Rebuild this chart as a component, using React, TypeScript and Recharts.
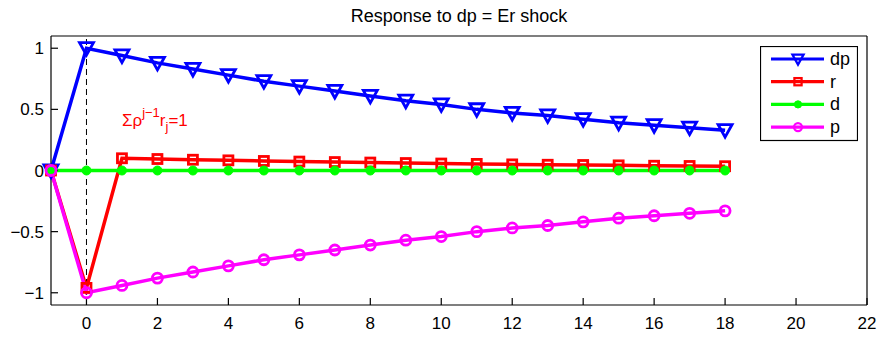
// Impulse response of dp, r, d, p to a dp = Er shock (MATLAB style plot).

import {
  LineChart,
  Line,
  XAxis,
  YAxis,
  Legend,
  ReferenceLine,
  ReferenceDot,
} from "recharts";

const TITLE = "Response to dp = Er shock";

const horizon = [-1, 0, 1, 2, 3, 4, 5, 6, 7, 8, 9, 10, 11, 12, 13, 14, 15, 16, 17, 18];
const dpVals = [0, 1, 0.94, 0.88, 0.83, 0.78, 0.73, 0.69, 0.65, 0.61, 0.57, 0.54, 0.5, 0.47, 0.45, 0.42, 0.39, 0.37, 0.35, 0.33];
const rVals = [0, -0.96, 0.1, 0.094, 0.088, 0.083, 0.078, 0.073, 0.069, 0.065, 0.061, 0.057, 0.054, 0.05, 0.047, 0.045, 0.042, 0.039, 0.037, 0.035];
const dVals = [0, 0, 0, 0, 0, 0, 0, 0, 0, 0, 0, 0, 0, 0, 0, 0, 0, 0, 0, 0];
const pVals = [0, -1, -0.94, -0.88, -0.83, -0.78, -0.73, -0.69, -0.65, -0.61, -0.57, -0.54, -0.5, -0.47, -0.45, -0.42, -0.39, -0.37, -0.35, -0.33];

const xTicks = [0, 2, 4, 6, 8, 10, 12, 14, 16, 18, 20, 22];
const yTicks = [-1, -0.5, 0, 0.5, 1];

const seriesNames = ["dp", "r", "d", "p"];

const BLUE = "#0000FF";
const RED = "#FF0000";
const GREEN = "#00FF00";
const MAGENTA = "#FF00FF";
const FONT = "'Liberation Sans', Arial, Helvetica, sans-serif";

const rows = horizon.map((x, i) => ({
  x,
  dp: dpVals[i],
  r: rVals[i],
  d: dVals[i],
  p: pVals[i],
}));

function Marker({ kind, cx, cy, scale = 1 }: { kind: string; cx: number; cy: number; scale?: number }) {
  const sw = 2.8 * scale;
  if (kind === "dp") {
    const s = 7 * scale;
    return (
      <polygon
        points={`${cx - s},${cy - s * 0.8} ${cx + s},${cy - s * 0.8} ${cx},${cy + s}`}
        fill="none"
        stroke={BLUE}
        strokeWidth={sw}
        strokeLinejoin="miter"
      />
    );
  }
  if (kind === "r") {
    const s = 4.5 * scale;
    return <rect x={cx - s} y={cy - s} width={2 * s} height={2 * s} fill="none" stroke={RED} strokeWidth={sw} />;
  }
  if (kind === "d") {
    return <circle cx={cx} cy={cy} r={4.5 * scale} fill={GREEN} stroke={GREEN} strokeWidth={1} />;
  }
  return <circle cx={cx} cy={cy} r={5 * scale} fill="none" stroke={MAGENTA} strokeWidth={sw} />;
}

const makeDot = (kind: string) => (props: any) => {
  const { cx, cy, index } = props;
  if (cx == null || cy == null) return <g key={`${kind}-${index}`} />;
  return (
    <g key={`${kind}-${index}`}>
      <Marker kind={kind} cx={cx} cy={cy} />
    </g>
  );
};

const colorOf: Record<string, string> = { dp: BLUE, r: RED, d: GREEN, p: MAGENTA };

function LegendBox() {
  return (
    <svg width={98} height={96} style={{ display: "block" }}>
      <rect x={0.5} y={0.5} width={97} height={94} fill="#fff" stroke="#000" strokeWidth={1.2} />
      {seriesNames.map((name, i) => {
        const y = 13 + i * 22.7;
        return (
          <g key={name}>
            <line x1={11} x2={64} y1={y} y2={y} stroke={colorOf[name]} strokeWidth={3.2} />
            <Marker kind={name} cx={38} cy={y} scale={0.8} />
            <text x={70} y={y + 6} fontSize={18} fontFamily={FONT} fill="#000">
              {name}
            </text>
          </g>
        );
      })}
    </svg>
  );
}

function Annotation(props: any) {
  const { viewBox } = props;
  if (!viewBox) return null;
  return (
    <text x={viewBox.x} y={viewBox.y} fill={RED} fontSize={17} fontFamily={FONT}>
      <tspan>Σρ</tspan>
      <tspan dy={-9} fontSize={13}>j−1</tspan>
      <tspan dy={9} fontSize={17}>r</tspan>
      <tspan dy={5} fontSize={13}>j</tspan>
      <tspan dy={-5} fontSize={17}>=1</tspan>
    </text>
  );
}

const fmtY = (v: number) => (v < 0 ? `−${Math.abs(v)}` : `${v}`);

export default function App() {
  const tickStyle = { fill: "#000", fontSize: 17, fontFamily: FONT };
  return (
    <div style={{ position: "absolute", left: 0, top: 0, background: "#fff" }}>
      <LineChart width={885} height={337} data={rows} margin={{ top: 0, right: 0, bottom: 0, left: 0 }}>
        <XAxis
          dataKey="x"
          type="number"
          domain={[-1, 22]}
          ticks={xTicks}
          interval={0}
          height={32}
          tickSize={-7}
          tickMargin={19}
          tick={tickStyle}
          stroke="#000"
          strokeWidth={1.2}
          tickLine={{ stroke: "#000" }}
        />
        <XAxis
          xAxisId="top"
          orientation="top"
          dataKey="x"
          type="number"
          domain={[-1, 22]}
          ticks={xTicks}
          interval={0}
          height={36}
          tickSize={-7}
          tick={false}
          stroke="#000"
          strokeWidth={1.2}
          tickLine={{ stroke: "#000" }}
          label={{ value: TITLE, position: "insideTop", offset: 9, fill: "#000", fontSize: 18, fontFamily: FONT }}
        />
        <YAxis
          type="number"
          domain={[-1.1, 1.1]}
          ticks={yTicks}
          interval={0}
          width={51}
          tickSize={-7}
          tickMargin={14}
          tick={tickStyle}
          tickFormatter={fmtY}
          stroke="#000"
          strokeWidth={1.2}
          tickLine={{ stroke: "#000" }}
        />
        <YAxis
          yAxisId="right"
          orientation="right"
          type="number"
          domain={[-1.1, 1.1]}
          ticks={yTicks}
          interval={0}
          width={18}
          tickSize={-7}
          tick={false}
          stroke="#000"
          strokeWidth={1.2}
          tickLine={{ stroke: "#000" }}
        />
        <ReferenceLine x={0} stroke="#000" strokeWidth={1} strokeDasharray="6 4" />
        <ReferenceDot x={1} y={0.36} r={0} fill="none" stroke="none" label={<Annotation />} />
        <Line type="linear" dataKey="dp" stroke={BLUE} strokeWidth={3.5} dot={makeDot("dp")} activeDot={false} isAnimationActive={false} />
        <Line type="linear" dataKey="r" stroke={RED} strokeWidth={3.5} dot={makeDot("r")} activeDot={false} isAnimationActive={false} />
        <Line type="linear" dataKey="d" stroke={GREEN} strokeWidth={3.5} dot={makeDot("d")} activeDot={false} isAnimationActive={false} />
        <Line type="linear" dataKey="p" stroke={MAGENTA} strokeWidth={3.5} dot={makeDot("p")} activeDot={false} isAnimationActive={false} />
        <Legend
          layout="vertical"
          align="center"
          verticalAlign="middle"
          wrapperStyle={{ left: 760, top: 46, width: 98, height: 96 }}
          content={<LegendBox />}
        />
      </LineChart>
    </div>
  );
}
